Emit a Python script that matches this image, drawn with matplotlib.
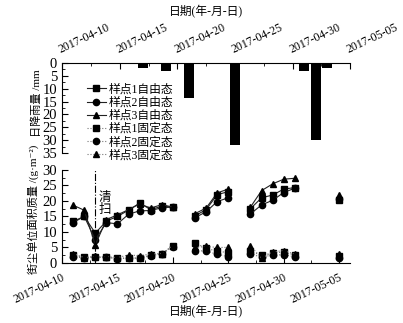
import numpy as np
import pandas as pd
import matplotlib
matplotlib.use('Agg')
import matplotlib.pyplot as plt
import matplotlib.dates as mdates
from matplotlib.ticker import FixedLocator

plt.rcParams['font.family'] = ['Liberation Serif', 'Noto Sans CJK SC', 'DejaVu Serif']
plt.rcParams['axes.unicode_minus'] = False

# daily rainfall (mm)
rain_dates = ['2017-04-17', '2017-04-19', '2017-04-21', '2017-04-25',
              '2017-05-01', '2017-05-02', '2017-05-03']
rain_mm = [2, 3, 13.5, 32, 3, 30, 2]

# street dust mass per area (g/m2), sampled on these days
dust_dates = ['2017-04-11', '2017-04-12', '2017-04-13', '2017-04-14', '2017-04-15',
              '2017-04-16', '2017-04-17', '2017-04-18', '2017-04-19', '2017-04-20',
              '2017-04-22', '2017-04-23', '2017-04-24', '2017-04-25',
              '2017-04-27', '2017-04-28', '2017-04-29', '2017-04-30', '2017-05-01',
              '2017-05-05']
# groups of consecutive days are joined by lines, gaps break them
groups = [(0, 10), (10, 14), (14, 19), (19, 20)]

free1 = [13.4, 15.0, 9.6, 13.5, 15.0, 17.0, 19.3, 17.2, 18.3, 18.0,
         15.2, 17.2, 22.0, 23.0, 17.5, 21.0, 21.9, 23.8, 24.3, 20.4]
free2 = [13.0, 15.0, 7.5, 13.0, 12.6, 15.7, 16.8, 16.9, 17.8, 18.0,
         14.6, 16.5, 19.8, 21.0, 15.8, 18.7, 20.2, 22.7, 24.1, 20.6]
free3 = [18.6, 17.0, 5.8, 14.0, 15.5, 17.2, 19.0, 17.7, 18.8, 18.0,
         15.9, 17.7, 22.6, 23.8, 18.0, 23.3, 25.5, 27.0, 27.3, 22.0]
fix1 = [2.5, 1.8, 2.0, 1.8, 1.5, 1.6, 1.6, 2.5, 3.0, 5.5,
        6.5, 4.7, 3.8, 3.3, 3.7, 2.5, 3.2, 3.5, 2.5, 2.2]
fix2 = [2.0, 1.6, 1.8, 1.8, 1.4, 1.5, 1.5, 2.3, 2.9, 5.2,
        4.0, 3.8, 2.8, 2.0, 3.0, 1.8, 2.6, 2.6, 2.0, 1.6]
fix3 = [3.0, 1.7, 2.1, 2.0, 1.7, 2.6, 2.3, 2.9, 3.0, 5.6,
        5.0, 5.3, 5.0, 5.0, 5.5, 1.5, 3.5, 4.0, 2.8, 2.8]

clean_date = '2017-04-13'

rain_x = mdates.date2num(pd.to_datetime(rain_dates))
dust_x = mdates.date2num(pd.to_datetime(dust_dates))
d0 = mdates.date2num(pd.Timestamp('2017-04-10'))

fig = plt.figure(figsize=(4.03, 3.23), dpi=100)
ax1 = fig.add_axes([0.154, 0.526, 0.715, 0.279])
ax2 = fig.add_axes([0.154, 0.186, 0.715, 0.288])

# ---- rainfall (top) ----
ax1.bar(rain_x, rain_mm, width=0.85, color='black')
ax1.set_ylim(35, 0)
ax1.set_xlim(d0, d0 + 25)
ax1.spines['bottom'].set_visible(False)
ax1.spines['right'].set_visible(False)
ax1.xaxis.tick_top()
ax1.xaxis.set_label_position('top')
major1 = d0 + np.arange(0, 26, 5)
ax1.xaxis.set_major_locator(FixedLocator(major1))
ax1.xaxis.set_minor_locator(FixedLocator(d0 + np.arange(2.5, 25, 5)))
ax1.set_yticks(np.arange(0, 36, 5))
ax1.set_yticks(np.arange(2.5, 35, 5), minor=True)
ax1.tick_params(axis='both', which='both', direction='in', labelsize=10.5)
ax1.tick_params(axis='x', labelsize=8.5, pad=5)
ax1.tick_params(which='major', length=4)
ax1.tick_params(which='minor', length=2)
ax1.set_xticklabels([mdates.num2date(v).strftime('%Y-%m-%d') for v in major1],
                    rotation=25, ha='left', rotation_mode='anchor')
ax1.set_xlabel('日期(年-月-日)', fontsize=8.5, labelpad=5)

# ---- dust mass (bottom) ----
styles = [
    (free1, 's', '-', '#222222', '样点1自由态'),
    (free2, 'o', '-', '#222222', '样点2自由态'),
    (free3, '^', '-', '#222222', '样点3自由态'),
    (fix1, 's', ':', '#777777', '样点1固定态'),
    (fix2, 'o', ':', '#777777', '样点2固定态'),
    (fix3, '^', ':', '#777777', '样点3固定态'),
]
handles = []
for vals, mk, ls, lc, lab in styles:
    vals = np.array(vals)
    for a, b in groups:
        ax2.plot(dust_x[a:b], vals[a:b], linestyle=ls, color=lc, linewidth=0.8)
        ax2.plot(dust_x[a:b], vals[a:b], linestyle='none', marker=mk,
                 markersize=4.5, color='black')
    h, = ax1.plot([], [], linestyle=ls, color=lc, linewidth=0.8, marker=mk,
                  markersize=4.5, markerfacecolor='black', markeredgecolor='black',
                  label=lab)
    handles.append(h)

cx = mdates.date2num(pd.Timestamp(clean_date))
ax2.axvline(cx, color='black', linestyle='-.', linewidth=0.8)
ax2.text(cx + 0.25, 23, '清\n扫', fontsize=9, va='top', ha='left', linespacing=1.0)

ax2.set_ylim(0, 30)
ax2.set_xlim(d0, d0 + 26)
ax2.spines['top'].set_visible(False)
ax2.spines['right'].set_visible(False)
major2 = d0 + np.arange(0, 26, 5)
ax2.xaxis.set_major_locator(FixedLocator(major2))
ax2.xaxis.set_minor_locator(FixedLocator(d0 + np.arange(2.5, 26, 5)))
ax2.set_yticks(np.arange(0, 31, 5))
ax2.set_yticks(np.arange(2.5, 30, 5), minor=True)
ax2.tick_params(axis='both', which='both', direction='in', labelsize=10.5)
ax2.tick_params(axis='x', labelsize=8.5, pad=6)
ax2.tick_params(which='major', length=4)
ax2.tick_params(which='minor', length=2)
ax2.set_xticklabels([mdates.num2date(v).strftime('%Y-%m-%d') for v in major2],
                    rotation=25, ha='right', rotation_mode='anchor')
ax2.set_xlabel('日期(年-月-日)', fontsize=8.5, labelpad=0)

fig.legend(handles=handles, loc='lower left', bbox_to_anchor=(0.215, 0.50),
           frameon=False, fontsize=8.5, labelspacing=0.1, handlelength=1.6,
           handletextpad=0.3, borderpad=0, borderaxespad=0)

fig.text(0.092, 0.68, '日降雨量 /mm', rotation=90, ha='center', va='center', fontsize=8)
fig.text(0.082, 0.353, '街尘单位面积质量 /(g·m⁻²)', rotation=90, ha='center',
         va='center', fontsize=8)

fig.savefig('out.png', dpi=100)
